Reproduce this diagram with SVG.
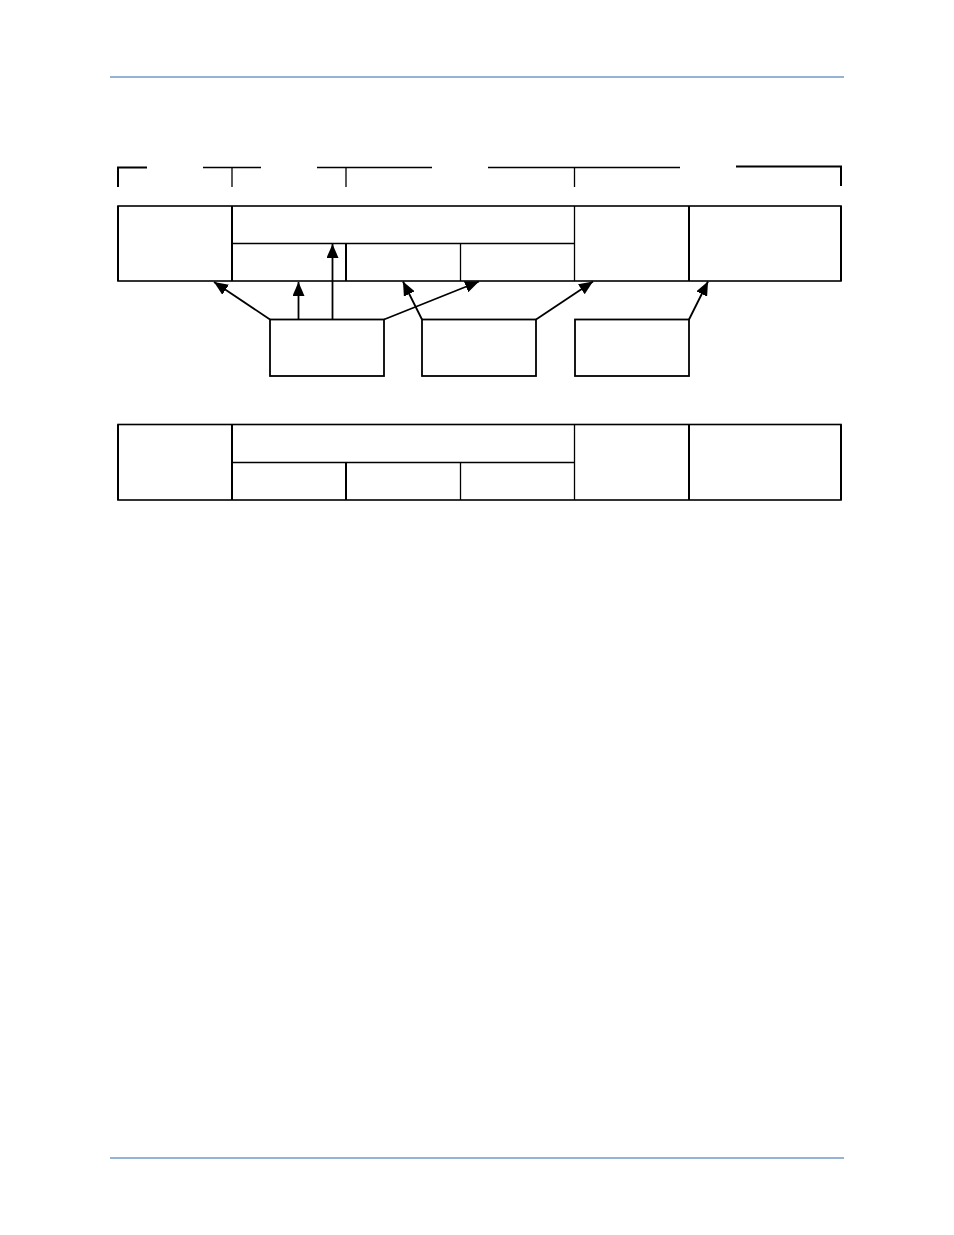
<svg xmlns="http://www.w3.org/2000/svg" width="954" height="1235" viewBox="0 0 954 1235">
<style>
.rule{stroke:#95b3d7;stroke-width:2;fill:none}
.ln{stroke:#000;stroke-width:1.3;fill:none}
.tk{stroke:#000;stroke-width:2;fill:none}
.box{stroke:#000;stroke-width:1.6;fill:#fff}
.nb{stroke:#000;stroke-width:1.8;fill:#fff}
.arr{stroke:#000;stroke-width:1.8;fill:none;marker-end:url(#ah)}
</style>
<defs>
<marker id="ah" markerUnits="userSpaceOnUse" markerWidth="16" markerHeight="12" refX="14" refY="6" orient="auto">
<path d="M0,0 L14,6 L0,12 Z" fill="#000"/>
</marker>
</defs>
<rect width="954" height="1235" fill="#fff"/>
<line class="rule" x1="110" y1="77" x2="844" y2="77"/>
<line class="rule" x1="110" y1="1158" x2="844" y2="1158"/>
<g id="brackets">
<path class="tk" d="M118,187 V167.5 H147"/>
<path class="ln" d="M203,167.5 H261 M232,167.5 V187"/>
<path class="ln" d="M317,167.5 H432 M346,167.5 V187"/>
<path class="ln" d="M488,167.5 H680 M574.5,167.5 V187"/>
<path class="tk" d="M736,166.5 H841 V186"/>
</g>
<g id="table1">
<rect class="box" x="118" y="206" width="723" height="75"/>
<line class="ln" x1="232" y1="243.5" x2="574.5" y2="243.5"/>
<line class="tk" x1="232" y1="206" x2="232" y2="281"/>
<line class="tk" x1="346" y1="243.5" x2="346" y2="281"/>
<line class="ln" x1="460.5" y1="243.5" x2="460.5" y2="281"/>
<line class="ln" x1="574.5" y1="206" x2="574.5" y2="281"/>
<line class="tk" x1="689" y1="206" x2="689" y2="281"/>
<line class="tk" x1="118" y1="206" x2="118" y2="281"/>
<line class="tk" x1="841" y1="206" x2="841" y2="281"/>
</g>
<g id="box1"><rect class="nb" x="270" y="319.5" width="114" height="56.5"/></g>
<g id="box2"><rect class="nb" x="422" y="319.5" width="114" height="56.5"/></g>
<g id="box3"><rect class="nb" x="575" y="319.5" width="114" height="56.5"/></g>
<g id="table2">
<rect class="box" x="118" y="424.5" width="723" height="75.5"/>
<line class="ln" x1="232" y1="462.5" x2="574.5" y2="462.5"/>
<line class="tk" x1="232" y1="424.5" x2="232" y2="500"/>
<line class="tk" x1="346" y1="462.5" x2="346" y2="500"/>
<line class="ln" x1="460.5" y1="462.5" x2="460.5" y2="500"/>
<line class="ln" x1="574.5" y1="424.5" x2="574.5" y2="500"/>
<line class="tk" x1="689" y1="424.5" x2="689" y2="500"/>
<line class="tk" x1="118" y1="424.5" x2="118" y2="500"/>
<line class="tk" x1="841" y1="424.5" x2="841" y2="500"/>
</g>
<g id="connectors">
<line class="arr" x1="270" y1="319.5" x2="214" y2="282"/>
<line class="arr" x1="298.5" y1="319.5" x2="298.5" y2="282"/>
<line class="arr" x1="332.5" y1="319.5" x2="332.5" y2="244"/>
<line class="arr" x1="384" y1="319.5" x2="479" y2="281.5"/>
<line class="arr" x1="422" y1="319.5" x2="403" y2="281.5"/>
<line class="arr" x1="536" y1="319.5" x2="593" y2="281.5"/>
<line class="arr" x1="689" y1="319.5" x2="708" y2="281.5"/>
</g>
</svg>
